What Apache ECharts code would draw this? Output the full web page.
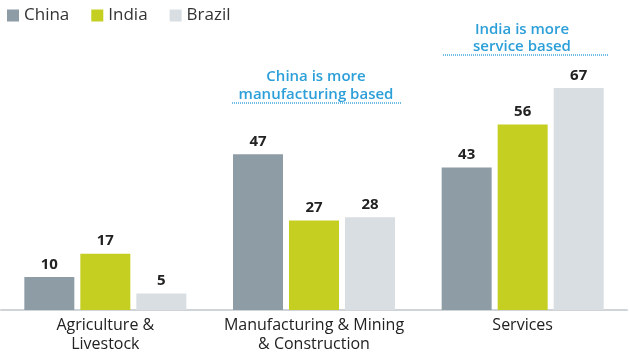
<!DOCTYPE html>
<html><head><meta charset="utf-8">
<script src="https://cdn.jsdelivr.net/npm/echarts@6/dist/echarts.min.js"></script>
<style>html,body{margin:0;padding:0;background:#fff}#c{width:630px;height:354px}</style>
</head><body><div id="c"></div>
<script>
const categories = ['Agriculture &\nLivestock', 'Manufacturing & Mining\n& Construction', 'Services'];
const seriesNames = ['China', 'India', 'Brazil'];
const china = [10, 47, 43];
const india = [17, 27, 56];
const brazil = [5, 28, 67];
const colors = ['#8e9ca6', '#c4cf22', '#d9dee2'];

const chart = echarts.init(document.getElementById('c'));
const font = '"Open Sans", sans-serif';
const mk = (name, data, color) => ({
  name, type: 'bar', data, barWidth: 50, barGap: '12%',
  itemStyle: { color },
  label: { show: true, position: 'top', distance: 5, color: '#222', fontWeight: 'bold', fontSize: 15, fontFamily: font }
});
chart.setOption({
  animation: false,
  textStyle: { fontFamily: font },
  legend: {
    left: 2, top: 2, itemWidth: 12, itemHeight: 12, itemGap: 22,
    icon: 'rect',
    textStyle: { fontSize: 17, color: '#333', fontFamily: font },
    data: seriesNames
  },
  grid: { left: 1, right: 3, top: 45, bottom: 42 },
  xAxis: {
    type: 'category', data: categories,
    axisLine: { lineStyle: { color: '#cfd4d8', width: 2 } },
    axisTick: { show: false },
    axisLabel: { interval: 0, color: '#222', fontSize: 16, lineHeight: 19, margin: 6, fontFamily: font }
  },
  yAxis: { type: 'value', min: 0, max: 80, show: false, splitLine: { show: false } },
  series: [mk(seriesNames[0], china, colors[0]), mk(seriesNames[1], india, colors[1]), mk(seriesNames[2], brazil, colors[2])],
  graphic: [
    { type: 'text', style: { text: 'China is more\nmanufacturing based', x: 316, y: 68, align: 'center', fill: '#2c9fd9', font: '600 15px ' + font, lineHeight: 18 } },
    { type: 'line', shape: { x1: 232, y1: 103, x2: 402, y2: 103 }, style: { stroke: '#6fbde6', lineWidth: 2, lineDash: [1, 1] } },
    { type: 'text', style: { text: 'India is more\nservice based', x: 522, y: 21, align: 'center', fill: '#2c9fd9', font: '600 15px ' + font, lineHeight: 17 } },
    { type: 'line', shape: { x1: 443, y1: 55, x2: 608, y2: 55 }, style: { stroke: '#6fbde6', lineWidth: 2, lineDash: [1, 1] } }
  ]
});
</script></body></html>
